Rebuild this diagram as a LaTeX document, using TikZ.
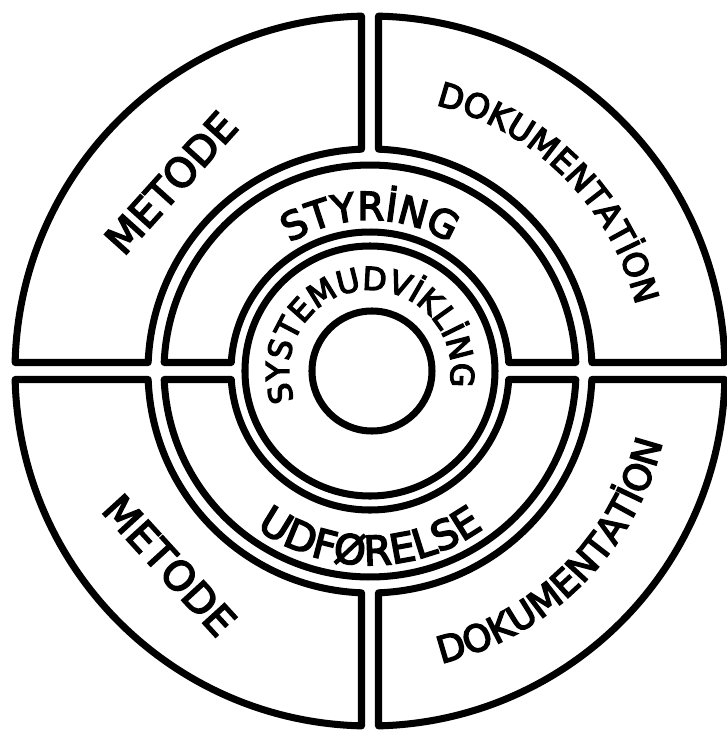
\documentclass[tikz,border=0pt]{standalone}
\usepackage{fontspec}
\newfontfamily\lettering{DejaVu Sans}[FakeBold=4]
\usetikzlibrary{decorations.text}
\tikzset{
  piece/.style={line width=4pt, line join=round}
}
\tikzset{
  arctext/.style={decorate, decoration={text along path, text align=center, text={#1}}}
}
\newcommand{\halfgap}{8.5}
\newcommand{\ringfont}{\lettering\fontsize{22pt}{26pt}\selectfont}
\newcommand{\udffont}{\lettering\fontsize{23pt}{27pt}\selectfont}
\newcommand{\corefont}{\lettering\fontsize{18pt}{21pt}\selectfont}
\newcommand{\docfont}{\lettering\fontsize{19pt}{22pt}\selectfont}
\newcommand{\docfontb}{\lettering\fontsize{21pt}{24pt}\selectfont}
\newcommand{\metfont}{\lettering\fontsize{23pt}{27pt}\selectfont}

\begin{document}
\begin{tikzpicture}[x=0.02cm, y=0.02cm]
  \useasboundingbox (-370,-364) rectangle (357,371);
  % outer quadrants
  \foreach \q in {0,90,180,270}
    \draw[piece, rotate=\q] ({asin(\halfgap/355)}:355) arc[start angle={asin(\halfgap/355)}, end angle={90-asin(\halfgap/355)}, radius=355]
      -- ({90-asin(\halfgap/222)}:222) arc[start angle={90-asin(\halfgap/222)}, end angle={asin(\halfgap/222)}, radius=222] -- cycle;
  % middle ring, two halves
  \foreach \q in {0,180}
    \draw[piece, rotate=\q] ({asin(\halfgap/206)}:206) arc[start angle={asin(\halfgap/206)}, end angle={180-asin(\halfgap/206)}, radius=206]
      -- ({180-asin(\halfgap/139)}:139) arc[start angle={180-asin(\halfgap/139)}, end angle={asin(\halfgap/139)}, radius=139] -- cycle;
  % inner ring and core
  \draw[piece] (0,0) circle (125);
  \draw[piece] (2,0) circle (60);
  % labels
  \node[rotate=48, font=\metfont, inner sep=0] (metodeup) at (136.6:274) {METODE};
  \node[rotate=-47.6, font=\metfont, inner sep=0] (metodedown) at (224.1:279) {METODE};
  \path[arctext={|\docfont|DOKUMENTATİON}] (85:274) arc[start angle=85, end angle=5, radius=274];
  \path[arctext={|\docfontb|DOKUMENTATİON}] (-85:301) arc[start angle=-85, end angle=-5, radius=301];
  \path[arctext={|\ringfont|STYRİNG}] (150:151) arc[start angle=150, end angle=30, radius=151];
  \path[arctext={|\udffont|UDFØRELSE}] (210:194) arc[start angle=210, end angle=330, radius=194];
  \path[arctext={|\corefont|SYSTEMUDVİKLİNG}] (215:81) arc[start angle=215, end angle=-25, radius=81];
\end{tikzpicture}
\end{document}
